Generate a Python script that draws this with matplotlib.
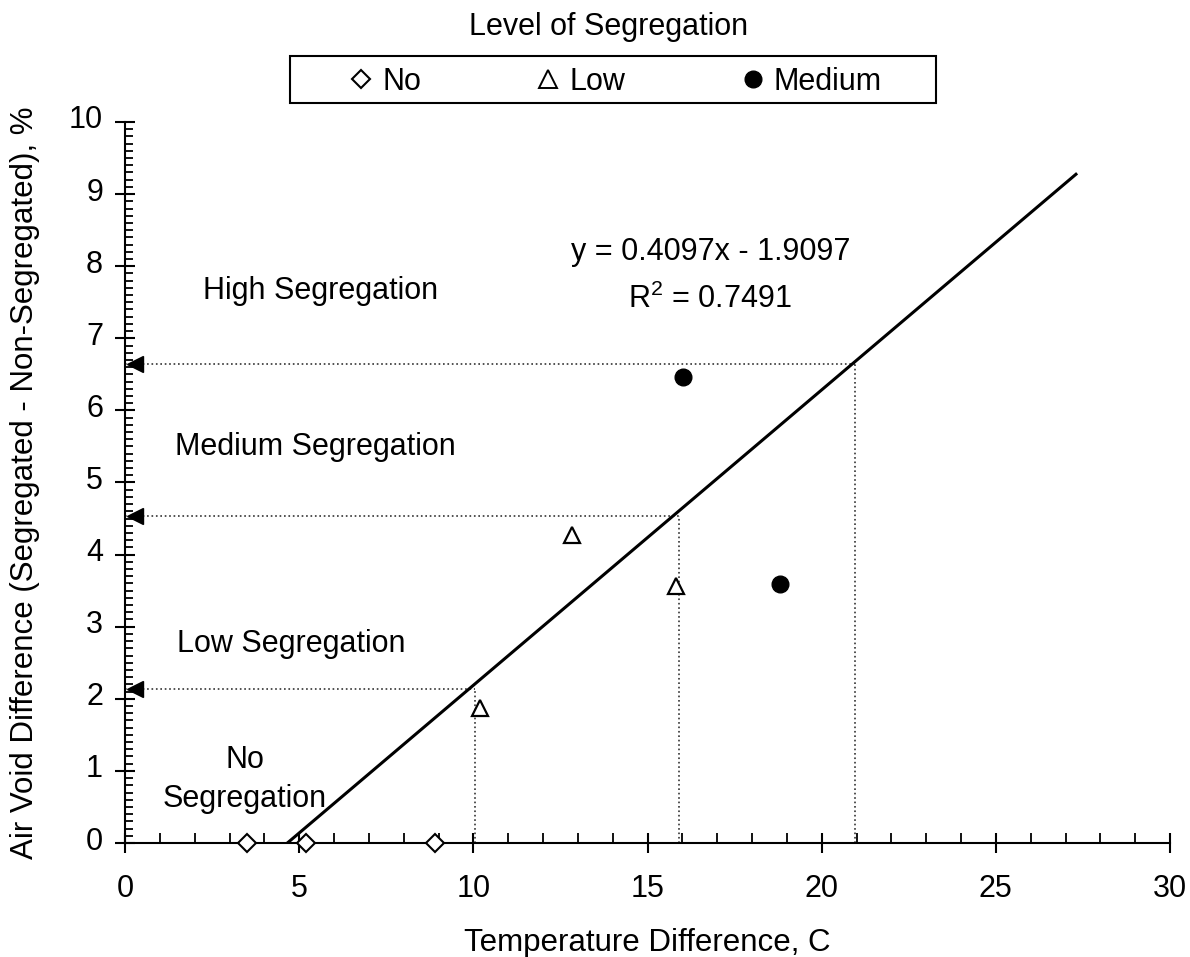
import numpy as np
import matplotlib
matplotlib.use("Agg")
import matplotlib.pyplot as plt
import matplotlib.transforms as mtransforms
from matplotlib.ticker import MultipleLocator
from matplotlib.lines import Line2D
from matplotlib.patches import Rectangle

plt.rcParams['font.family'] = ['Liberation Sans', 'DejaVu Sans']
plt.rcParams['mathtext.fontset'] = 'custom'
plt.rcParams['mathtext.rm'] = 'Liberation Sans'

# -------- data --------
no_x = [3.5, 5.2, 8.89]
no_y = [0.0, 0.0, 0.0]
low_x = [10.19, 12.83, 15.82]
low_y = [1.87, 4.27, 3.56]
med_x = [16.02, 18.8]
med_y = [6.46, 3.59]

slope = 0.4097
intercept = -1.9097
fit_x_end = 27.3

# thresholds read on the fit line (temperature, air void)
thr_x = [10.05, 15.9, 20.96]
thr_y = [2.13, 4.53, 6.64]

zones = ["High Segregation", "Medium Segregation", "Low Segregation", "No\nSegregation"]
legend_labels = ["No", "Low", "Medium"]

W, H = 1190, 957
fig = plt.figure(figsize=(W / 100, H / 100), dpi=100)
ax = fig.add_axes([125 / W, 1 - 843 / H, 1045 / W, 721 / H])

# regression line
fx = np.array([-intercept / slope, fit_x_end])
ax.plot(fx, slope * fx + intercept, color='black', lw=2.2, zorder=3)

# dotted guides + arrows on y axis
for tx, ty in zip(thr_x, thr_y):
    ax.plot([0, tx], [ty, ty], ls=':', color='#333333', lw=1.2, zorder=2)
    ax.plot([tx, tx], [0, ty], ls=':', color='#333333', lw=1.2, zorder=2)
    ax.plot([0.29], [ty], marker='<', color='black', ms=12, clip_on=False, zorder=4)

# points
ax.plot(no_x, no_y, ls='none', marker='D', ms=9.3, mfc='white', mec='black', mew=1.5, clip_on=False, zorder=5)
ax.plot(low_x, low_y, ls='none', marker='^', ms=12, mfc='white', mec='black', mew=1.6, zorder=5)
ax.plot(med_x, med_y, ls='none', marker='o', ms=12, mfc='black', mec='black', zorder=5)

# zone labels (single lines placed on baseline, two-line one from top)
ax.text(5.61, 7.545, zones[0], ha='center', va='baseline', fontsize=22)
ax.text(5.455, 5.38, zones[1], ha='center', va='baseline', fontsize=22)
ax.text(4.77, 2.65, zones[2], ha='center', va='baseline', fontsize=22)
ax.text(3.445, 1.363, zones[3], ha='center', va='top', fontsize=22, linespacing=1.4)
ax.text(16.81, 8.086, "y = %.4fx - %.4f" % (slope, -intercept), ha='center', va='baseline', fontsize=22)
ax.text(16.79, 7.42, "R$^2$ = 0.7491", ha='center', va='baseline', fontsize=22)

# axes styling
ax.set_xlim(0, 30)
ax.set_ylim(0, 10)
ax.spines['top'].set_visible(False)
ax.spines['right'].set_visible(False)
ax.spines['left'].set_linewidth(1.5)
ax.spines['bottom'].set_linewidth(1.5)
ax.xaxis.set_major_locator(MultipleLocator(5))
ax.xaxis.set_minor_locator(MultipleLocator(1))
ax.yaxis.set_major_locator(MultipleLocator(1))
ax.yaxis.set_minor_locator(MultipleLocator(0.1))
ax.tick_params(which='major', direction='inout', length=14.4, width=1.5, labelsize=22)
ax.tick_params(axis='x', which='major', pad=15)
ax.tick_params(axis='y', which='major', pad=8.6)
ax.tick_params(axis='x', which='minor', direction='in', length=7, width=1.3)
ax.tick_params(axis='y', which='minor', direction='in', length=6, width=1.3)
ax.set_xlabel("Temperature Difference, C", fontsize=22.5, labelpad=17.5)
ax.set_ylabel("Air Void Difference (Segregated - Non-Segregated), %", fontsize=22.5, labelpad=21)

# y tick labels sit a little above their ticks in the original
shift = mtransforms.ScaledTranslation(0, 0.05, fig.dpi_scale_trans)
for lab in ax.get_yticklabels():
    lab.set_transform(lab.get_transform() + shift)

# legend
handles = [
    Line2D([], [], ls='none', marker='D', ms=9.5, mfc='white', mec='black', mew=1.5),
    Line2D([], [], ls='none', marker='^', ms=13, mfc='white', mec='black', mew=1.4),
    Line2D([], [], ls='none', marker='o', ms=12, mfc='black', mec='black'),
]
leg = fig.legend(handles, legend_labels, ncol=3, loc='center left',
                 bbox_to_anchor=(345.7 / W, 1 - 82 / H), fontsize=22,
                 frameon=False, handlelength=1.0, handletextpad=0.19,
                 columnspacing=3.67, borderpad=0, borderaxespad=0)
fig.patches.append(Rectangle((290 / W, 1 - 103 / H), 646 / W, 47 / H, transform=fig.transFigure,
                             fill=False, edgecolor='black', lw=1.5))
fig.text(609 / W, 1 - 35 / H, "Level of Segregation", ha='center', va='baseline', fontsize=22)

fig.savefig("out.png", dpi=100, facecolor='white')
